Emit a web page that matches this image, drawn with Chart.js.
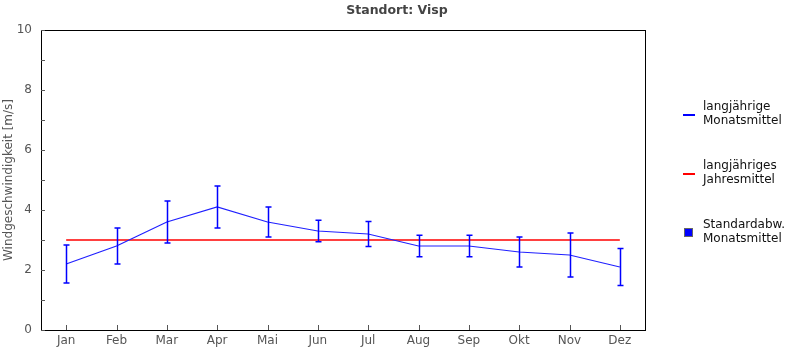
<!DOCTYPE html>
<html>
<head>
<meta charset="utf-8">
<script src="https://cdn.jsdelivr.net/npm/chart.js@4.4.1/dist/chart.umd.min.js"></script>
<style>
  html, body { margin: 0; padding: 0; background: #fff; }
  #wrap { width: 795px; height: 350px; position: relative; }
</style>
</head>
<body>
<div id="wrap"><canvas id="c"></canvas></div>
<script>
/* Windgeschwindigkeit, Standort Visp: Monatsmittel mit Standardabweichung */
var MONTHS = ["Jan","Feb","Mar","Apr","Mai","Jun","Jul","Aug","Sep","Okt","Nov","Dez"];
var MEAN   = [2.2, 2.8, 3.6, 4.1, 3.6, 3.3, 3.2, 2.8, 2.8, 2.6, 2.5, 2.1];
var SD     = [0.63, 0.6, 0.7, 0.7, 0.5, 0.36, 0.42, 0.36, 0.36, 0.5, 0.73, 0.62];
var YEAR   = [3.0, 3.0, 3.0, 3.0, 3.0, 3.0, 3.0, 3.0, 3.0, 3.0, 3.0, 3.0];
var TITLE  = "Standort: Visp";
var YTITLE = "Windgeschwindigkeit [m/s]";
var LEGEND = [
  { text: ["langjährige", "Monatsmittel"], kind: "line", color: "#0000ff" },
  { text: ["langjähriges", "Jahresmittel"], kind: "line", color: "#ff0000" },
  { text: ["Standardabw.", "Monatsmittel"], kind: "box", color: "#0000ff" }
];

var FONT = "'DejaVu Sans', sans-serif";

// whiskers from MEAN +/- SD, frame, inward ticks, title and legend
var decor = {
  id: "decor",
  afterDatasetsDraw: function (chart) {
    var ctx = chart.ctx, xs = chart.scales.x, ys = chart.scales.y, a = chart.chartArea;
    ctx.save();
    ctx.strokeStyle = "#0000ff"; ctx.lineWidth = 1.5;
    MEAN.forEach(function (m, i) {
      var x = Math.round(xs.getPixelForValue(i)) + 0.5;
      var t = ys.getPixelForValue(m + SD[i]), b = ys.getPixelForValue(m - SD[i]);
      ctx.beginPath();
      ctx.moveTo(x, t); ctx.lineTo(x, b);
      ctx.moveTo(x - 3, t); ctx.lineTo(x + 3, t);
      ctx.moveTo(x - 3, b); ctx.lineTo(x + 3, b);
      ctx.stroke();
    });
    // frame + ticks
    ctx.strokeStyle = "#000"; ctx.lineWidth = 1;
    ctx.strokeRect(Math.round(a.left) + 0.5, Math.round(a.top) + 0.5,
                   Math.round(a.right - a.left), Math.round(a.bottom - a.top));
    ctx.strokeStyle = "#555";
    ctx.beginPath();
    ys.ticks.forEach(function (t) {
      var y = Math.round(ys.getPixelForValue(t.value)) + 0.5;
      ctx.moveTo(a.left, y); ctx.lineTo(a.left + 4, y);
    });
    MONTHS.forEach(function (m, i) {
      var x = Math.round(xs.getPixelForValue(i)) + 0.5;
      ctx.moveTo(x, a.bottom); ctx.lineTo(x, a.bottom - 5);
    });
    ctx.stroke();
    // title
    ctx.fillStyle = "#444"; ctx.font = "bold 12.5px " + FONT;
    ctx.textAlign = "center"; ctx.textBaseline = "middle";
    ctx.fillText(TITLE, 397, 11);
    // legend
    ctx.font = "12px " + FONT; ctx.textAlign = "left"; ctx.fillStyle = "#111";
    LEGEND.forEach(function (item, k) {
      var cy = 115 + k * 59;
      if (item.kind === "line") {
        ctx.strokeStyle = item.color; ctx.lineWidth = 2;
        ctx.beginPath(); ctx.moveTo(683, cy); ctx.lineTo(695, cy); ctx.stroke();
      } else {
        ctx.fillStyle = item.color; ctx.fillRect(685, cy - 4, 7, 7);
        ctx.strokeStyle = "#666"; ctx.lineWidth = 1; ctx.strokeRect(684.5, cy - 4.5, 8, 8);
        ctx.fillStyle = "#111";
      }
      ctx.fillText(item.text[0], 703, cy - 8);
      ctx.fillText(item.text[1], 703, cy + 6);
    });
    ctx.restore();
  }
};

new Chart(document.getElementById("c"), {
  type: "line",
  data: {
    labels: MONTHS,
    datasets: [
      { data: YEAR, borderColor: "#ff0000", borderWidth: 1.5, pointRadius: 0, order: 2 },
      { data: MEAN, borderColor: "#2020ff", borderWidth: 1.2, pointRadius: 0, tension: 0, order: 1 }
    ]
  },
  options: {
    responsive: true, maintainAspectRatio: false, animation: false,
    layout: { padding: { top: 30, right: 150, bottom: 0, left: 0 } },
    plugins: { legend: { display: false }, tooltip: { enabled: false } },
    scales: {
      x: {
        offset: true,
        grid: { display: false, drawTicks: false },
        border: { display: false },
        ticks: { color: "#555", font: { family: FONT, size: 12 }, padding: 4, autoSkip: false, maxRotation: 0 },
        afterFit: function (s) { s.height = 20; }
      },
      y: {
        min: 0, max: 10,
        grid: { display: false, drawTicks: false },
        border: { display: false },
        ticks: { stepSize: 1, color: "#555", font: { family: FONT, size: 12 }, padding: 9,
          callback: function (v) { return v % 2 === 0 ? v : ""; } },
        title: { display: true, text: YTITLE, color: "#555", font: { family: FONT, size: 12 }, padding: { top: 2, bottom: 0 } },
        afterFit: function (s) { s.width = 41; }
      }
    }
  },
  plugins: [decor]
});
</script>
</body>
</html>
